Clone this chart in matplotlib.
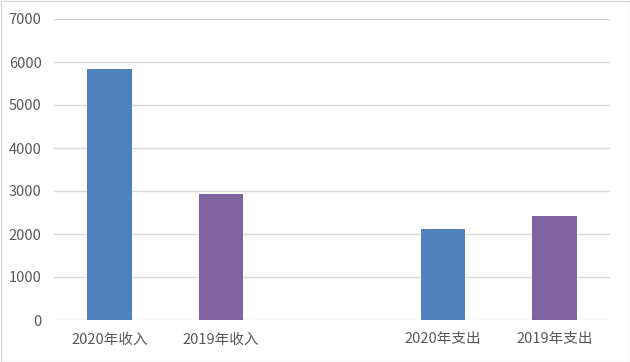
import matplotlib
matplotlib.use('Agg')
import matplotlib.pyplot as plt
from matplotlib.patches import Rectangle
import numpy as np

plt.rcParams['font.family'] = ['Noto Sans CJK SC', 'DejaVu Sans']

categories = ['2020年收入', '2019年收入', '', '2020年支出', '2019年支出']
values = [5845, 2937, 0, 2123, 2425]
colors = ['#4F81BD', '#8064A2', '#4F81BD', '#4F81BD', '#8064A2']
yticks = [0, 1000, 2000, 3000, 4000, 5000, 6000, 7000]

fig = plt.figure(figsize=(6.3, 3.62), dpi=100)
ax = fig.add_axes([54/630, 1-320/362, 556/630, 301/362])

x = np.arange(len(categories))
ax.bar(x, values, width=0.4, color=colors, zorder=3)

ax.set_xlim(-0.5, len(categories)-0.5)
ax.set_ylim(0, 7000)
ax.set_yticks(yticks)
ax.set_xticks(x)
ax.set_xticklabels(categories)
ax.yaxis.grid(True, color='#D9D9D9', linewidth=1, zorder=0)
ax.set_axisbelow(True)
for s in ax.spines.values():
    s.set_visible(False)
ax.tick_params(axis='both', length=0, labelsize=10.5, labelcolor='#595959')
ax.tick_params(axis='y', pad=9)
ax.tick_params(axis='x', pad=9)

fig.patches.append(Rectangle((0.5/630, 0.5/362), 1-1/630, 1-1/362, transform=fig.transFigure,
                             fill=False, edgecolor='#D9D9D9', linewidth=1))

fig.savefig('out.png', dpi=100)
